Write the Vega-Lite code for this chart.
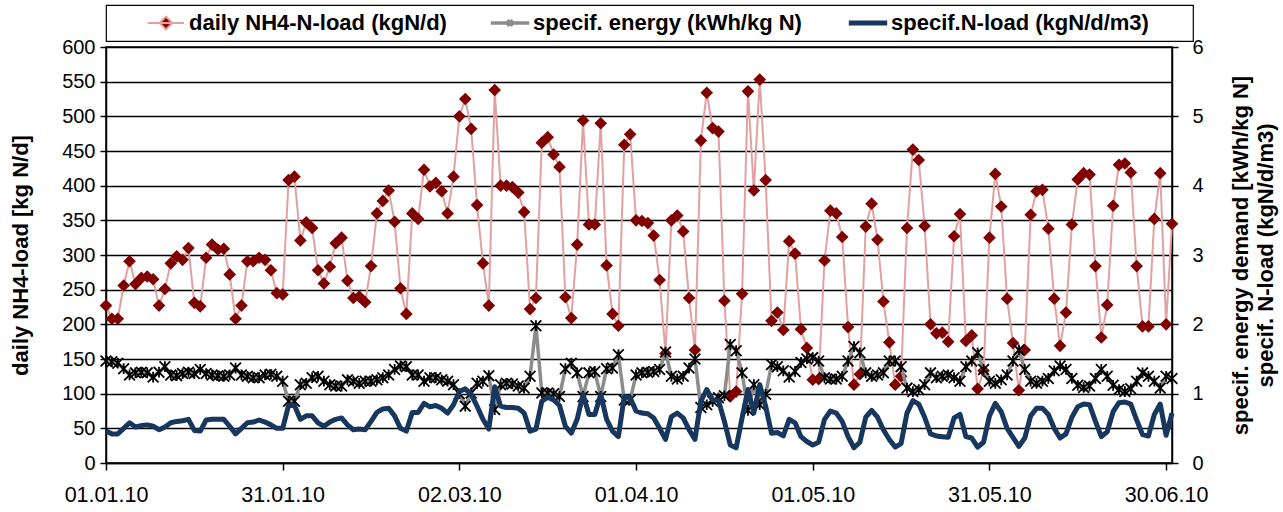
{
  "$schema": "https://vega.github.io/schema/vega-lite/v6.json",
  "width": 1066,
  "height": 416,
  "autosize": {"type": "none"},
  "padding": {"left": 106, "top": 47, "right": 111, "bottom": 49},
  "background": "#ffffff",
  "config": {
    "font": "Liberation Sans",
    "view": {"stroke": "#000000", "strokeWidth": 1.5},
    "axis": {"labelFont": "Liberation Sans", "titleFont": "Liberation Sans", "labelColor": "#000000", "titleColor": "#000000", "domainColor": "#000000", "tickColor": "#000000", "domainWidth": 1.5, "tickWidth": 1.5, "labelFontSize": 20, "titleFontSize": 22, "titleFontWeight": "bold"},
    "legend": {"orient": "top", "direction": "horizontal", "offset": 6, "padding": 7, "strokeColor": "#000000", "strokeWidth": 1.2, "labelFont": "Liberation Sans", "labelFontSize": 22, "labelFontWeight": "bold", "labelColor": "#000000", "labelLimit": 600, "columnPadding": 36, "symbolSize": 256, "symbolStrokeWidth": 3, "symbolOffset": 10, "labelOffset": 12, "titleFont": "Liberation Sans", "titleFontSize": 10, "titleOrient": "left", "titlePadding": 32}
  },
  "data": {"values": [
    {"date":"2010-01-01","nh4":227,"en":1.47,"nl":0.46},
    {"date":"2010-01-02","nh4":208,"en":1.46,"nl":0.42},
    {"date":"2010-01-03","nh4":208,"en":1.44,"nl":0.42},
    {"date":"2010-01-04","nh4":256,"en":1.36,"nl":0.50},
    {"date":"2010-01-05","nh4":291,"en":1.27,"nl":0.58},
    {"date":"2010-01-06","nh4":258,"en":1.30,"nl":0.52},
    {"date":"2010-01-07","nh4":267,"en":1.31,"nl":0.54},
    {"date":"2010-01-08","nh4":269,"en":1.30,"nl":0.55},
    {"date":"2010-01-09","nh4":265,"en":1.24,"nl":0.53},
    {"date":"2010-01-10","nh4":227,"en":1.31,"nl":0.48},
    {"date":"2010-01-11","nh4":251,"en":1.39,"nl":0.52},
    {"date":"2010-01-12","nh4":288,"en":1.27,"nl":0.58},
    {"date":"2010-01-13","nh4":298,"en":1.26,"nl":0.60},
    {"date":"2010-01-14","nh4":293,"en":1.29,"nl":0.61},
    {"date":"2010-01-15","nh4":310,"en":1.31,"nl":0.63},
    {"date":"2010-01-16","nh4":231,"en":1.29,"nl":0.47},
    {"date":"2010-01-17","nh4":226,"en":1.35,"nl":0.46},
    {"date":"2010-01-18","nh4":296,"en":1.29,"nl":0.62},
    {"date":"2010-01-19","nh4":315,"en":1.27,"nl":0.63},
    {"date":"2010-01-20","nh4":308,"en":1.26,"nl":0.63},
    {"date":"2010-01-21","nh4":309,"en":1.25,"nl":0.63},
    {"date":"2010-01-22","nh4":272,"en":1.27,"nl":0.53},
    {"date":"2010-01-23","nh4":208,"en":1.37,"nl":0.42},
    {"date":"2010-01-24","nh4":227,"en":1.27,"nl":0.50},
    {"date":"2010-01-25","nh4":291,"en":1.25,"nl":0.58},
    {"date":"2010-01-26","nh4":291,"en":1.23,"nl":0.59},
    {"date":"2010-01-27","nh4":296,"en":1.23,"nl":0.62},
    {"date":"2010-01-28","nh4":293,"en":1.27,"nl":0.59},
    {"date":"2010-01-29","nh4":278,"en":1.28,"nl":0.55},
    {"date":"2010-01-30","nh4":245,"en":1.25,"nl":0.50},
    {"date":"2010-01-31","nh4":243,"en":1.18,"nl":0.50},
    {"date":"2010-02-01","nh4":408,"en":0.89,"nl":0.83},
    {"date":"2010-02-02","nh4":413,"en":0.89,"nl":0.83},
    {"date":"2010-02-03","nh4":321,"en":1.13,"nl":0.63},
    {"date":"2010-02-04","nh4":347,"en":1.15,"nl":0.68},
    {"date":"2010-02-05","nh4":339,"en":1.23,"nl":0.68},
    {"date":"2010-02-06","nh4":278,"en":1.25,"nl":0.58},
    {"date":"2010-02-07","nh4":259,"en":1.18,"nl":0.53},
    {"date":"2010-02-08","nh4":283,"en":1.13,"nl":0.59},
    {"date":"2010-02-09","nh4":317,"en":1.11,"nl":0.63},
    {"date":"2010-02-10","nh4":325,"en":1.11,"nl":0.65},
    {"date":"2010-02-11","nh4":263,"en":1.20,"nl":0.55},
    {"date":"2010-02-12","nh4":238,"en":1.18,"nl":0.48},
    {"date":"2010-02-13","nh4":240,"en":1.15,"nl":0.49},
    {"date":"2010-02-14","nh4":232,"en":1.18,"nl":0.48},
    {"date":"2010-02-15","nh4":284,"en":1.18,"nl":0.60},
    {"date":"2010-02-16","nh4":360,"en":1.20,"nl":0.73},
    {"date":"2010-02-17","nh4":378,"en":1.23,"nl":0.78},
    {"date":"2010-02-18","nh4":393,"en":1.27,"nl":0.79},
    {"date":"2010-02-19","nh4":348,"en":1.35,"nl":0.68},
    {"date":"2010-02-20","nh4":252,"en":1.40,"nl":0.50},
    {"date":"2010-02-21","nh4":215,"en":1.39,"nl":0.46},
    {"date":"2010-02-22","nh4":360,"en":1.27,"nl":0.73},
    {"date":"2010-02-23","nh4":352,"en":1.27,"nl":0.73},
    {"date":"2010-02-24","nh4":423,"en":1.18,"nl":0.86},
    {"date":"2010-02-25","nh4":399,"en":1.23,"nl":0.81},
    {"date":"2010-02-26","nh4":404,"en":1.23,"nl":0.83},
    {"date":"2010-02-27","nh4":392,"en":1.20,"nl":0.79},
    {"date":"2010-02-28","nh4":360,"en":1.18,"nl":0.72},
    {"date":"2010-03-01","nh4":413,"en":1.13,"nl":0.84},
    {"date":"2010-03-02","nh4":500,"en":1.00,"nl":1.03},
    {"date":"2010-03-03","nh4":525,"en":0.82,"nl":1.07},
    {"date":"2010-03-04","nh4":482,"en":1.01,"nl":0.99},
    {"date":"2010-03-05","nh4":372,"en":1.15,"nl":0.82},
    {"date":"2010-03-06","nh4":288,"en":1.18,"nl":0.63},
    {"date":"2010-03-07","nh4":227,"en":1.26,"nl":0.49},
    {"date":"2010-03-08","nh4":538,"en":0.77,"nl":1.10},
    {"date":"2010-03-09","nh4":400,"en":1.13,"nl":0.82},
    {"date":"2010-03-10","nh4":400,"en":1.15,"nl":0.80},
    {"date":"2010-03-11","nh4":398,"en":1.14,"nl":0.80},
    {"date":"2010-03-12","nh4":390,"en":1.11,"nl":0.79},
    {"date":"2010-03-13","nh4":362,"en":1.08,"nl":0.72},
    {"date":"2010-03-14","nh4":222,"en":1.25,"nl":0.46},
    {"date":"2010-03-15","nh4":238,"en":1.98,"nl":0.49},
    {"date":"2010-03-16","nh4":462,"en":1.01,"nl":0.89},
    {"date":"2010-03-17","nh4":470,"en":1.01,"nl":0.95},
    {"date":"2010-03-18","nh4":445,"en":1.00,"nl":0.91},
    {"date":"2010-03-19","nh4":427,"en":0.96,"nl":0.83},
    {"date":"2010-03-20","nh4":239,"en":1.36,"nl":0.53},
    {"date":"2010-03-21","nh4":209,"en":1.44,"nl":0.43},
    {"date":"2010-03-22","nh4":315,"en":1.30,"nl":0.63},
    {"date":"2010-03-23","nh4":494,"en":0.96,"nl":0.99},
    {"date":"2010-03-24","nh4":344,"en":1.30,"nl":0.70},
    {"date":"2010-03-25","nh4":344,"en":1.32,"nl":0.70},
    {"date":"2010-03-26","nh4":490,"en":0.96,"nl":0.99},
    {"date":"2010-03-27","nh4":285,"en":1.36,"nl":0.63},
    {"date":"2010-03-28","nh4":215,"en":1.37,"nl":0.46},
    {"date":"2010-03-29","nh4":198,"en":1.56,"nl":0.38},
    {"date":"2010-03-30","nh4":459,"en":0.91,"nl":0.96},
    {"date":"2010-03-31","nh4":474,"en":0.91,"nl":0.94},
    {"date":"2010-04-01","nh4":350,"en":1.27,"nl":0.75},
    {"date":"2010-04-02","nh4":349,"en":1.30,"nl":0.72},
    {"date":"2010-04-03","nh4":346,"en":1.31,"nl":0.71},
    {"date":"2010-04-04","nh4":328,"en":1.32,"nl":0.65},
    {"date":"2010-04-05","nh4":264,"en":1.35,"nl":0.50},
    {"date":"2010-04-06","nh4":158,"en":1.60,"nl":0.34},
    {"date":"2010-04-07","nh4":350,"en":1.25,"nl":0.67},
    {"date":"2010-04-08","nh4":357,"en":1.21,"nl":0.72},
    {"date":"2010-04-09","nh4":334,"en":1.25,"nl":0.65},
    {"date":"2010-04-10","nh4":238,"en":1.37,"nl":0.48},
    {"date":"2010-04-11","nh4":163,"en":1.50,"nl":0.34},
    {"date":"2010-04-12","nh4":465,"en":0.80,"nl":0.89},
    {"date":"2010-04-13","nh4":534,"en":0.84,"nl":1.06},
    {"date":"2010-04-14","nh4":483,"en":0.89,"nl":0.91},
    {"date":"2010-04-15","nh4":478,"en":0.94,"nl":0.90},
    {"date":"2010-04-16","nh4":234,"en":0.97,"nl":0.60},
    {"date":"2010-04-17","nh4":96,"en":1.71,"nl":0.26},
    {"date":"2010-04-18","nh4":103,"en":1.62,"nl":0.22},
    {"date":"2010-04-19","nh4":244,"en":1.30,"nl":0.65},
    {"date":"2010-04-20","nh4":536,"en":0.76,"nl":1.06},
    {"date":"2010-04-21","nh4":393,"en":1.13,"nl":0.72},
    {"date":"2010-04-22","nh4":553,"en":0.84,"nl":1.13},
    {"date":"2010-04-23","nh4":408,"en":0.99,"nl":0.82},
    {"date":"2010-04-24","nh4":205,"en":1.42,"nl":0.43},
    {"date":"2010-04-25","nh4":217,"en":1.39,"nl":0.44},
    {"date":"2010-04-26","nh4":192,"en":1.33,"nl":0.39},
    {"date":"2010-04-27","nh4":320,"en":1.24,"nl":0.63},
    {"date":"2010-04-28","nh4":302,"en":1.32,"nl":0.58},
    {"date":"2010-04-29","nh4":193,"en":1.45,"nl":0.38},
    {"date":"2010-04-30","nh4":166,"en":1.50,"nl":0.31},
    {"date":"2010-05-01","nh4":120,"en":1.52,"nl":0.26},
    {"date":"2010-05-02","nh4":121,"en":1.47,"nl":0.30},
    {"date":"2010-05-03","nh4":292,"en":1.23,"nl":0.63},
    {"date":"2010-05-04","nh4":364,"en":1.21,"nl":0.75},
    {"date":"2010-05-05","nh4":360,"en":1.21,"nl":0.72},
    {"date":"2010-05-06","nh4":326,"en":1.25,"nl":0.60},
    {"date":"2010-05-07","nh4":196,"en":1.47,"nl":0.38},
    {"date":"2010-05-08","nh4":113,"en":1.68,"nl":0.22},
    {"date":"2010-05-09","nh4":128,"en":1.59,"nl":0.30},
    {"date":"2010-05-10","nh4":341,"en":1.30,"nl":0.66},
    {"date":"2010-05-11","nh4":374,"en":1.25,"nl":0.76},
    {"date":"2010-05-12","nh4":322,"en":1.27,"nl":0.66},
    {"date":"2010-05-13","nh4":233,"en":1.30,"nl":0.48},
    {"date":"2010-05-14","nh4":174,"en":1.47,"nl":0.34},
    {"date":"2010-05-15","nh4":113,"en":1.47,"nl":0.23},
    {"date":"2010-05-16","nh4":125,"en":1.39,"nl":0.28},
    {"date":"2010-05-17","nh4":339,"en":1.08,"nl":0.72},
    {"date":"2010-05-18","nh4":452,"en":1.03,"nl":0.90},
    {"date":"2010-05-19","nh4":437,"en":1.06,"nl":0.85},
    {"date":"2010-05-20","nh4":342,"en":1.13,"nl":0.66},
    {"date":"2010-05-21","nh4":200,"en":1.30,"nl":0.42},
    {"date":"2010-05-22","nh4":187,"en":1.23,"nl":0.39},
    {"date":"2010-05-23","nh4":188,"en":1.25,"nl":0.38},
    {"date":"2010-05-24","nh4":175,"en":1.27,"nl":0.37},
    {"date":"2010-05-25","nh4":327,"en":1.23,"nl":0.65},
    {"date":"2010-05-26","nh4":359,"en":1.18,"nl":0.70},
    {"date":"2010-05-27","nh4":176,"en":1.39,"nl":0.38},
    {"date":"2010-05-28","nh4":184,"en":1.47,"nl":0.36},
    {"date":"2010-05-29","nh4":107,"en":1.59,"nl":0.23},
    {"date":"2010-05-30","nh4":133,"en":1.35,"nl":0.30},
    {"date":"2010-05-31","nh4":325,"en":1.18,"nl":0.68},
    {"date":"2010-06-01","nh4":417,"en":1.15,"nl":0.86},
    {"date":"2010-06-02","nh4":370,"en":1.20,"nl":0.74},
    {"date":"2010-06-03","nh4":237,"en":1.27,"nl":0.50},
    {"date":"2010-06-04","nh4":173,"en":1.47,"nl":0.37},
    {"date":"2010-06-05","nh4":105,"en":1.63,"nl":0.24},
    {"date":"2010-06-06","nh4":163,"en":1.35,"nl":0.36},
    {"date":"2010-06-07","nh4":358,"en":1.18,"nl":0.68},
    {"date":"2010-06-08","nh4":392,"en":1.15,"nl":0.79},
    {"date":"2010-06-09","nh4":394,"en":1.18,"nl":0.79},
    {"date":"2010-06-10","nh4":338,"en":1.22,"nl":0.70},
    {"date":"2010-06-11","nh4":237,"en":1.33,"nl":0.50},
    {"date":"2010-06-12","nh4":169,"en":1.40,"nl":0.36},
    {"date":"2010-06-13","nh4":217,"en":1.35,"nl":0.42},
    {"date":"2010-06-14","nh4":344,"en":1.22,"nl":0.66},
    {"date":"2010-06-15","nh4":409,"en":1.12,"nl":0.81},
    {"date":"2010-06-16","nh4":418,"en":1.09,"nl":0.85},
    {"date":"2010-06-17","nh4":416,"en":1.11,"nl":0.84},
    {"date":"2010-06-18","nh4":284,"en":1.22,"nl":0.60},
    {"date":"2010-06-19","nh4":181,"en":1.35,"nl":0.38},
    {"date":"2010-06-20","nh4":228,"en":1.25,"nl":0.45},
    {"date":"2010-06-21","nh4":371,"en":1.12,"nl":0.74},
    {"date":"2010-06-22","nh4":430,"en":1.06,"nl":0.87},
    {"date":"2010-06-23","nh4":432,"en":1.03,"nl":0.88},
    {"date":"2010-06-24","nh4":419,"en":1.07,"nl":0.85},
    {"date":"2010-06-25","nh4":284,"en":1.18,"nl":0.62},
    {"date":"2010-06-26","nh4":197,"en":1.30,"nl":0.41},
    {"date":"2010-06-27","nh4":197,"en":1.25,"nl":0.39},
    {"date":"2010-06-28","nh4":352,"en":1.18,"nl":0.70},
    {"date":"2010-06-29","nh4":418,"en":1.08,"nl":0.85},
    {"date":"2010-06-30","nh4":200,"en":1.25,"nl":0.40},
    {"date":"2010-07-01","nh4":345,"en":1.22,"nl":0.72}
  ]},
  "encoding": {
    "x": {
      "field": "date", "type": "temporal",
      "scale": {"type": "utc", "domain": [{"year": 2010, "month": 1, "date": 1, "utc": true}, {"year": 2010, "month": 7, "date": 1, "utc": true}]},
      "axis": {
        "title": null, "grid": false, "format": "%d.%m.%y", "labelFontSize": 21.5, "labelFlush": false, "labelOverlap": false,
        "tickSize": 7, "labelPadding": 14,
        "values": [
          {"year": 2010, "month": 1, "date": 1, "utc": true},
          {"year": 2010, "month": 1, "date": 31, "utc": true},
          {"year": 2010, "month": 3, "date": 2, "utc": true},
          {"year": 2010, "month": 4, "date": 1, "utc": true},
          {"year": 2010, "month": 5, "date": 1, "utc": true},
          {"year": 2010, "month": 5, "date": 31, "utc": true},
          {"year": 2010, "month": 6, "date": 30, "utc": true}
        ]
      }
    }
  },
  "layer": [
    {
      "encoding": {
        "y": {
          "field": "nh4", "type": "quantitative",
          "scale": {"domain": [0, 600], "nice": false},
          "axis": {
            "orient": "left", "values": [0, 50, 100, 150, 200, 250, 300, 350, 400, 450, 500, 550, 600],
            "grid": true, "gridColor": "#000000", "gridWidth": 1.5, "gridOpacity": 1,
            "tickSize": 6, "labelPadding": 5,
            "title": "daily NH4-load [kg N/d]", "titleAngle": 270, "titleX": -79, "titleY": 208,
            "titleAlign": "center", "titleBaseline": "alphabetic"
          }
        }
      },
      "layer": [
        {
          "mark": {"type": "line", "strokeWidth": 2},
          "encoding": {
            "color": {
              "datum": "daily NH4-N-load (kgN/d)", "type": "nominal",
              "scale": {"domain": ["daily NH4-N-load (kgN/d)", "specif. energy (kWh/kg N)", "specif.N-load (kgN/d/m3)"], "range": ["#E2A0A0", "#8C8C8C", "#17375E"]},
              "legend": {
                "title": " ",
                "encode": {
                  "symbols": {
                    "enter": {
                      "strokeWidth": {"signal": "datum.value === 'daily NH4-N-load (kgN/d)' ? 2 : datum.value === 'specif. energy (kWh/kg N)' ? 3.5 : 5"}
                    },
                    "update": {
                      "shape": {"signal": "datum.value === 'daily NH4-N-load (kgN/d)' ? 'M-2.25,0L2.25,0M-0.8,0L0,-0.8L0.8,0L0,0.8Z' : datum.value === 'specif. energy (kWh/kg N)' ? 'M-2.4,0L2.4,0M-0.35,-0.35L0.35,0.35M-0.35,0.35L0.35,-0.35' : 'M-2.4,0L2.4,0M38.4,0'"},
                      "fill": {"signal": "datum.value === 'daily NH4-N-load (kgN/d)' ? '#800000' : 'transparent'"},
                      "opacity": {"value": 1}
                    }
                  }
                }
              }
            }
          }
        },
        {
          "mark": {"type": "point", "shape": "diamond", "filled": true, "size": 160, "color": "#800000", "opacity": 1}
        }
      ]
    },
    {
      "layer": [
        {
          "encoding": {
            "y": {
              "field": "en", "type": "quantitative",
              "scale": {"domain": [0, 6], "nice": false},
              "axis": {
                "orient": "right", "values": [0, 1, 2, 3, 4, 5, 6], "grid": false,
                "tickSize": 6, "labelPadding": 14,
                "title": ["specif. energy demand [kWh/kg N]", "specif. N-load (kgN/d/m3)"],
                "titleAngle": 270, "titleX": 75, "titleY": 208, "titleAlign": "center", "titleBaseline": "alphabetic", "titleLineHeight": 25
              }
            }
          },
          "layer": [
            {
              "mark": {"type": "line", "strokeWidth": 3.5},
              "encoding": {"color": {"datum": "specif. energy (kWh/kg N)", "type": "nominal"}}
            },
            {
              "mark": {"type": "point", "shape": "M-1,-1L1,1M-1,1L1,-1M0,-1L0,1", "filled": false, "size": 115, "color": "#000000", "strokeWidth": 1.8, "opacity": 1}
            }
          ]
        },
        {
          "mark": {"type": "line", "strokeWidth": 5, "strokeJoin": "round"},
          "encoding": {
            "y": {
              "field": "nl", "type": "quantitative",
              "scale": {"domain": [0, 6], "nice": false},
              "axis": {
                "orient": "right", "values": [0, 1, 2, 3, 4, 5, 6], "grid": false,
                "tickSize": 6, "labelPadding": 14,
                "title": ["specif. energy demand [kWh/kg N]", "specif. N-load (kgN/d/m3)"],
                "titleAngle": 270, "titleX": 75, "titleY": 208, "titleAlign": "center", "titleBaseline": "alphabetic", "titleLineHeight": 25
              }
            },
            "color": {"datum": "specif.N-load (kgN/d/m3)", "type": "nominal"}
          }
        }
      ]
    }
  ],
  "resolve": {"scale": {"y": "independent"}}
}
